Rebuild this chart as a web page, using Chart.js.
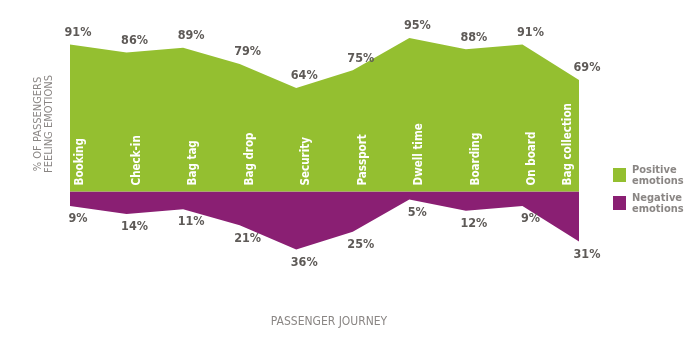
<!DOCTYPE html>
<html>
<head>
<meta charset="utf-8">
<script src="https://cdn.jsdelivr.net/npm/chart.js@4"></script>
<style>
  body { margin: 0; background: #fff; }
  canvas { display: block; }
</style>
</head>
<body>
<canvas id="journeyChart" width="690" height="351"></canvas>
<script>
const stages = ["Booking", "Check-in", "Bag tag", "Bag drop", "Security", "Passport", "Dwell time", "Boarding", "On board", "Bag collection"];
const positive = [91, 86, 89, 79, 64, 75, 95, 88, 91, 69];
const negative = [9, 14, 11, 21, 36, 25, 5, 12, 9, 31];

const green = "#94bf30";
const purple = "#8a1f73";
const labelGrey = "#5e5a57";
const titleGrey = "#8a8684";
const condensed = "'Liberation Sans Narrow', 'DejaVu Sans Condensed', sans-serif";

// draws stage names, value labels, axis titles and legend
const annotate = {
  id: "annotate",
  afterDatasetsDraw(chart) {
    const ctx = chart.ctx;
    const x = chart.scales.x;
    const y = chart.scales.y;
    const zero = y.getPixelForValue(0);
    const last = stages.length - 1;

    ctx.save();

    // stage names, vertical, white
    ctx.fillStyle = "#fff";
    ctx.font = "bold 11.5px " + condensed;
    ctx.textAlign = "left";
    ctx.textBaseline = "middle";
    stages.forEach((s, i) => {
      // last one sits inside the area, left of its point
      const px = x.getPixelForValue(i) + (i === last ? -11 : 10);
      ctx.save();
      ctx.translate(px, zero - 6);
      ctx.rotate(-Math.PI / 2);
      ctx.fillText(s, 0, 0);
      ctx.restore();
    });

    // value labels
    ctx.fillStyle = labelGrey;
    ctx.font = "bold 12.5px " + condensed;
    ctx.textAlign = "center";
    positive.forEach((v, i) => {
      const px = x.getPixelForValue(i) + 8;
      ctx.fillText(v + "%", px, y.getPixelForValue(v) - 12);
    });
    negative.forEach((v, i) => {
      const px = x.getPixelForValue(i) + 8;
      ctx.fillText(v + "%", px, y.getPixelForValue(-v) + 13);
    });

    // axis titles
    ctx.fillStyle = titleGrey;
    ctx.font = "11px " + condensed;
    ctx.save();
    ctx.translate(38, 124);
    ctx.rotate(-Math.PI / 2);
    ctx.fillText("% OF PASSENGERS", 0, 0);
    ctx.fillText("FEELING EMOTIONS", 0, 11);
    ctx.restore();
    ctx.font = "12px " + condensed;
    ctx.fillText("PASSENGER JOURNEY", 329, 322);

    // legend
    const items = [
      { color: green, lines: ["Positive", "emotions"], top: 168 },
      { color: purple, lines: ["Negative", "emotions"], top: 196 }
    ];
    ctx.textAlign = "left";
    ctx.font = "bold 11px " + condensed;
    items.forEach(it => {
      ctx.fillStyle = it.color;
      ctx.fillRect(613, it.top, 13, 14);
      ctx.fillStyle = titleGrey;
      ctx.fillText(it.lines[0], 632, it.top + 2);
      ctx.fillText(it.lines[1], 632, it.top + 13);
    });

    ctx.restore();
  }
};

const ctx = document.getElementById("journeyChart").getContext("2d");

new Chart(ctx, {
  type: "line",
  data: {
    labels: stages,
    datasets: [
      {
        label: "Positive emotions",
        data: positive,
        backgroundColor: green,
        borderWidth: 0,
        pointRadius: 0,
        fill: "origin",
        tension: 0
      },
      {
        label: "Negative emotions",
        data: negative.map(v => -v),
        backgroundColor: purple,
        borderWidth: 0,
        pointRadius: 0,
        fill: "origin",
        tension: 0
      }
    ]
  },
  options: {
    responsive: false,
    animation: false,
    layout: {
      padding: { left: 70, right: 111, top: 30, bottom: 95 }
    },
    plugins: {
      legend: { display: false },
      tooltip: { enabled: false }
    },
    scales: {
      x: { display: false, offset: false },
      y: { display: false, min: -40, max: 100 }
    }
  },
  plugins: [annotate]
});
</script>
</body>
</html>
